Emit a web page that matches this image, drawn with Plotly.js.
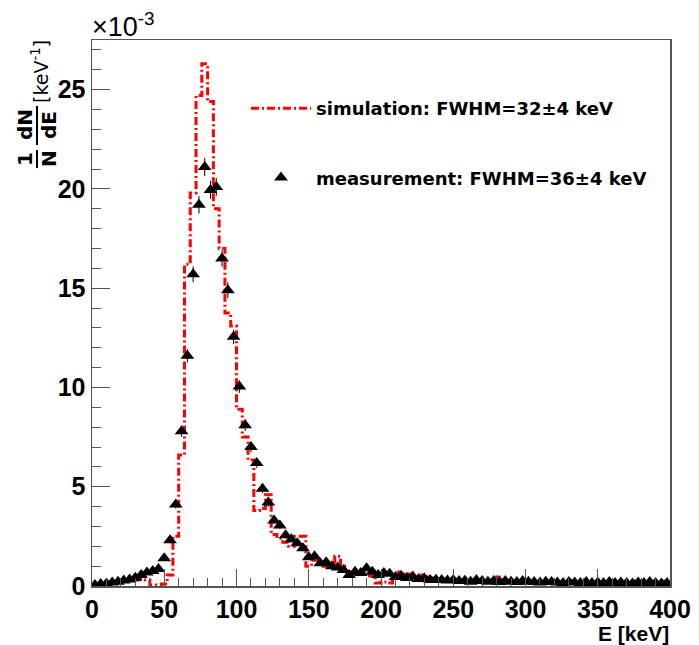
<!DOCTYPE html>
<html><head><meta charset="utf-8">
<script src="https://cdn.plot.ly/plotly-3.0.1.min.js"></script>
<style>html,body{margin:0;padding:0;background:#fff}</style>
</head><body>
<div id="chart" style="width:699px;height:645px"></div>
<script>
// Histogram binning: 100 bins of 4 keV from 0 to 400 keV
const binWidth = 4;
const xMax = 400;

// Simulation (values in units of 1e-3 keV^-1), one per bin (lower edges 0,4,...,396)
const simValues = [
  0.05,0.08,0.12,0.15,0.2,0.25,0.28,0.3,0.35,0.3,
  0.05,0.05,0.1,0.55,2.5,6.6,16.2,19.8,24.7,26.3,
  24.4,19.0,17.0,13.75,13.1,8.9,7.5,6.35,3.8,3.9,
  4.6,2.6,2.4,2.2,2.0,2.5,2.5,1.0,1.3,1.1,
  1.0,1.2,1.5,1.0,0.7,0.75,0.6,0.7,0.5,0.15,
  0.2,0.15,0.4,0.7,0.6,0.45,0.4,0.55,0.4,0.3,
  0.3,0.25,0.3,0.2,0.25,0.3,0.2,0.25,0.2,0.3,
  0.45,0.2,0.25,0.2,0.15,0.25,0.2,0.15,0.2,0.25,
  0.15,0.2,0.15,0.25,0.2,0.15,0.3,0.2,0.15,0.2,
  0.25,0.15,0.2,0.15,0.25,0.2,0.15,0.2,0.25,0.2
];

// Measurement (values in units of 1e-3 keV^-1), at bin centres 2,6,...,398
const measValues = [
  0.05,0.1,0.12,0.18,0.22,0.28,0.33,0.42,0.55,0.68,
  0.75,0.85,1.4,2.3,4.1,7.8,11.6,15.7,19.2,21.1,
  19.95,20.1,16.5,14.9,12.55,10.05,8.1,7.0,6.2,4.9,
  4.2,3.3,3.05,2.55,2.35,2.15,1.9,1.45,1.5,1.15,
  1.2,1.0,0.93,0.8,0.55,0.72,0.65,0.89,0.72,0.55,
  0.65,0.62,0.45,0.5,0.4,0.48,0.35,0.38,0.3,0.32,
  0.3,0.28,0.3,0.25,0.27,0.22,0.3,0.25,0.22,0.25,
  0.2,0.25,0.22,0.2,0.25,0.22,0.2,0.18,0.22,0.2,
  0.18,0.15,0.2,0.18,0.15,0.2,0.15,0.18,0.15,0.2,
  0.15,0.18,0.15,0.12,0.18,0.15,0.2,0.15,0.12,0.15
];
const measErrors = [
  0.03,0.04,0.04,0.05,0.05,0.06,0.06,0.07,0.08,0.08,
  0.09,0.1,0.12,0.15,0.2,0.28,0.34,0.4,0.44,0.46,
  0.45,0.45,0.41,0.39,0.36,0.32,0.29,0.27,0.25,0.22,
  0.21,0.18,0.18,0.16,0.15,0.15,0.14,0.12,0.12,0.11,
  0.11,0.1,0.1,0.09,0.08,0.09,0.08,0.09,0.09,0.08,
  0.08,0.08,0.07,0.07,0.07,0.07,0.06,0.06,0.06,0.06,
  0.05,0.05,0.05,0.05,0.05,0.05,0.05,0.05,0.05,0.05,
  0.05,0.05,0.05,0.05,0.05,0.05,0.05,0.05,0.05,0.05,
  0.05,0.05,0.05,0.05,0.05,0.05,0.05,0.05,0.05,0.05,
  0.05,0.05,0.05,0.05,0.05,0.05,0.05,0.05,0.05,0.05
];

const simLabel = "simulation: FWHM=32\u00b14 keV";
const measLabel = "measurement: FWHM=36\u00b14 keV";

// Build step coordinates from bin edges
const simX = simValues.map((_, i) => i * binWidth).concat([xMax]);
const simY = simValues.concat([simValues[simValues.length - 1]]);
const measX = measValues.map((_, i) => i * binWidth + binWidth / 2);

const axisCol = '#555';
const tickFont = {family: 'Liberation Sans, Arial, sans-serif', size: 25, weight: 'bold', color: '#000'};

const traces = [
  {
    type: 'scatter', mode: 'lines', name: simLabel, legendgroup: 'a',
    x: simX, y: simY,
    line: {shape: 'hv', color: '#ff0000', width: 3, dash: '8px,3px,2px,3px'},
    hoverinfo: 'skip'
  },
  {
    type: 'scatter', mode: 'markers', name: measLabel, legendgroup: 'b',
    x: measX, y: measValues,
    marker: {symbol: 'triangle-up', size: 12, color: '#000'},
    error_y: {type: 'data', array: measErrors, visible: true, color: '#000', thickness: 1, width: 0}
  }
];

const W = 699, H = 645, L = 92, R = 29, T = 40, B = 59;
const pw = W - L - R, ph = H - T - B;
const px = v => (v - L) / pw;        // pixel -> paper x
const py = v => (H - B - v) / ph;    // pixel -> paper y

const fracFont = {family: 'DejaVu Sans, sans-serif', size: 20, weight: 'bold', color: '#000'};

const layout = {
  width: W, height: H,
  margin: {l: L, r: R, t: T, b: B, pad: 0},
  paper_bgcolor: '#fff', plot_bgcolor: '#fff',
  showlegend: true,
  legend: {
    x: px(246), y: py(90), xanchor: 'left', yanchor: 'top',
    bgcolor: 'rgba(0,0,0,0)', borderwidth: 0,
    font: {family: 'DejaVu Sans, sans-serif', size: 18, weight: 'bold', color: '#000'},
    tracegroupgap: 43, itemwidth: 60
  },
  xaxis: {
    range: [0, xMax], dtick: 50, tick0: 0,
    ticks: 'inside', ticklen: 17, tickwidth: 1, tickcolor: axisCol,
    showline: true, linecolor: axisCol, linewidth: 1.5, mirror: true,
    showgrid: false, zeroline: false,
    tickfont: tickFont,
    minor: {dtick: 10, ticks: 'inside', ticklen: 8, tickwidth: 1, tickcolor: axisCol, showgrid: false}
  },
  yaxis: {
    range: [0, 27.5], dtick: 5, tick0: 0,
    ticks: 'inside', ticklen: 18, tickwidth: 1, tickcolor: axisCol,
    showline: true, linecolor: axisCol, linewidth: 1.5, mirror: true,
    showgrid: false, zeroline: false,
    tickfont: tickFont,
    minor: {dtick: 1, ticks: 'inside', ticklen: 9, tickwidth: 1, tickcolor: axisCol, showgrid: false}
  },
  annotations: [
    {text: '\u00d710<sup>-3</sup>', xref: 'paper', yref: 'paper', x: px(90), y: py(6),
     xanchor: 'left', yanchor: 'top', showarrow: false,
     font: {family: 'Liberation Sans, Arial, sans-serif', size: 27, color: '#000'}},
    {text: 'E [keV]', xref: 'paper', yref: 'paper', x: px(671), y: py(633),
     xanchor: 'right', yanchor: 'middle', showarrow: false,
     font: {family: 'Liberation Sans, Arial, sans-serif', size: 21, weight: 'bold', color: '#000'}},
    {text: '1', xref: 'paper', yref: 'paper', x: px(25), y: py(159), textangle: -90,
     xanchor: 'center', yanchor: 'middle', showarrow: false, font: fracFont},
    {text: 'N', xref: 'paper', yref: 'paper', x: px(49), y: py(159), textangle: -90,
     xanchor: 'center', yanchor: 'middle', showarrow: false, font: fracFont},
    {text: 'dN', xref: 'paper', yref: 'paper', x: px(25), y: py(125), textangle: -90,
     xanchor: 'center', yanchor: 'middle', showarrow: false, font: fracFont},
    {text: 'dE', xref: 'paper', yref: 'paper', x: px(49), y: py(125), textangle: -90,
     xanchor: 'center', yanchor: 'middle', showarrow: false, font: fracFont},
    {text: '[keV<sup>-1</sup>]', xref: 'paper', yref: 'paper', x: px(40), y: py(72), textangle: -90,
     xanchor: 'center', yanchor: 'middle', showarrow: false,
     font: {family: 'DejaVu Sans, sans-serif', size: 19, color: '#000'}}
  ],
  shapes: [
    {type: 'line', xref: 'paper', yref: 'paper', x0: px(37), x1: px(37), y0: py(150), y1: py(168),
     line: {color: '#000', width: 2}},
    {type: 'line', xref: 'paper', yref: 'paper', x0: px(37), x1: px(37), y0: py(106), y1: py(145),
     line: {color: '#000', width: 2}}
  ]
};

Plotly.newPlot('chart', traces, layout, {displayModeBar: false, staticPlot: true});
</script>
</body></html>
